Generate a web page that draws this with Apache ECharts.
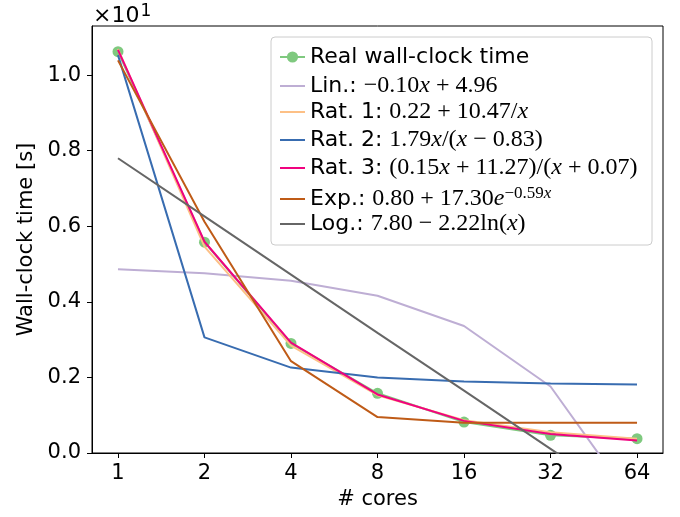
<!DOCTYPE html>
<html>
<head>
<meta charset="utf-8">
<script src="https://cdn.jsdelivr.net/npm/echarts@6/dist/echarts.min.js"></script>
<style>html,body{margin:0;padding:0;background:#fff}#c{width:680px;height:517px}</style>
</head>
<body>
<div id="c"></div>
<script>
// ---- data (values in units of 10 s, as on the axis) ----
const cores = [1, 2, 4, 8, 16, 32, 64];
const xTicks = [1, 2, 4, 8, 16, 32, 64];
const yTicks = [0.0, 0.2, 0.4, 0.6, 0.8, 1.0];
const realTime = [1.062, 0.558, 0.290, 0.158, 0.082, 0.047, 0.038];
const linFit  = [0.486, 0.476, 0.456, 0.416, 0.336, 0.176, -0.144];
const rat1Fit = [1.069, 0.546, 0.284, 0.153, 0.087, 0.055, 0.038];
const rat2Fit = [1.053, 0.306, 0.226, 0.200, 0.189, 0.184, 0.181];
const rat3Fit = [1.067, 0.559, 0.292, 0.155, 0.085, 0.050, 0.033];
const expFit  = [1.039, 0.612, 0.243, 0.095, 0.080, 0.080, 0.080];
const logFit  = [0.780, 0.626, 0.472, 0.318, 0.165, 0.011, -0.143];
const seriesNames = ['Real wall-clock time', 'Lin.', 'Rat. 1', 'Rat. 2', 'Rat. 3', 'Exp.', 'Log.'];
const seriesColors = ['#7fc97f', '#beaed4', '#fdc086', '#386cb0', '#f0027f', '#bf5b17', '#666666'];
const seriesValues = [realTime, linFit, rat1Fit, rat2Fit, rat3Fit, expFit, logFit];

const legendText = {
  'Real wall-clock time': '{s|Real wall-clock time}',
  'Lin.': '{s|Lin.: }{m|\u22120.10}{i|x}{m| + 4.96}',
  'Rat. 1': '{s|Rat. 1: }{m|0.22 + 10.47/}{i|x}',
  'Rat. 2': '{s|Rat. 2: }{m|1.79}{i|x}{m|/(}{i|x}{m| \u2212 0.83)}',
  'Rat. 3': '{s|Rat. 3: }{m|(0.15}{i|x}{m| + 11.27)/(}{i|x}{m| + 0.07)}',
  'Exp.': '{s|Exp.: }{m|0.80 + 17.30}{i|e}{sup|\u22120.59}{supi|x}',
  'Log.': '{s|Log.: }{m|7.80 \u2212 2.22ln(}{i|x}{m|)}'
};

const FONT = 'DejaVu Sans';
const SERIF = 'Liberation Serif';
const LH = 26;
const rich = {
  s: {fontFamily: FONT, fontSize: 22, color: '#000', lineHeight: LH},
  m: {fontFamily: SERIF, fontSize: 24, color: '#000', lineHeight: LH},
  i: {fontFamily: SERIF, fontSize: 24, fontStyle: 'italic', color: '#000', lineHeight: LH},
  sup: {fontFamily: SERIF, fontSize: 17, color: '#000', lineHeight: 16, verticalAlign: 'bottom', padding: [0, 0, 10, 0]},
  supi: {fontFamily: SERIF, fontSize: 17, fontStyle: 'italic', color: '#000', lineHeight: 16, verticalAlign: 'bottom', padding: [0, 0, 10, 0]}
};
const legendCenters = [59, 87, 113, 141, 169, 198, 225];

const chart = echarts.init(document.getElementById('c'), null, {renderer: 'canvas'});

const series = seriesNames.map((name, k) => ({
  name: name,
  type: 'line',
  data: cores.map((c, i) => [c, seriesValues[k][i]]),
  symbol: k === 0 ? 'circle' : 'none',
  symbolSize: 11,
  showSymbol: k === 0,
  lineStyle: {color: seriesColors[k], width: 2},
  itemStyle: {color: seriesColors[k]},
  emphasis: {disabled: true},
  animation: false,
  z: 2 + k
}));

const legends = seriesNames.map((name, k) => ({
  data: [name],
  left: 279,
  top: legendCenters[k] - LH / 2,
  padding: 0,
  itemWidth: 25,
  itemHeight: 14,
  selectedMode: false,
  z: 10,
  itemStyle: k === 0 ? {} : {opacity: 0},
  formatter: n => legendText[n],
  textStyle: {rich: rich}
}));

chart.setOption({
  animation: false,
  backgroundColor: '#fff',
  grid: {left: 92, right: 17, top: 26, bottom: 64, show: true, borderColor: '#000', borderWidth: 1, backgroundColor: 'transparent'},
  xAxis: {
    type: 'log', logBase: 2, min: 0.812, max: 78.8,
    name: '# cores', nameLocation: 'middle', nameGap: 35,
    nameTextStyle: {fontFamily: FONT, fontSize: 21, color: '#000'},
    axisLine: {show: true, lineStyle: {color: '#000', width: 1}},
    axisTick: {show: true, length: 5, lineStyle: {color: '#000', width: 1}, customValues: xTicks},
    axisLabel: {fontFamily: FONT, fontSize: 21, color: '#000', margin: 10, customValues: xTicks,
      formatter: v => String(Math.round(v))},
    splitLine: {show: false}, minorTick: {show: false}
  },
  yAxis: {
    type: 'value', min: 0, max: 1.13,
    name: 'Wall-clock time [s]', nameLocation: 'middle', nameGap: 52,
    nameTextStyle: {fontFamily: FONT, fontSize: 21, color: '#000'},
    axisLine: {show: true, lineStyle: {color: '#000', width: 1}},
    axisTick: {show: true, length: 5, lineStyle: {color: '#000', width: 1}, customValues: yTicks},
    axisLabel: {fontFamily: FONT, fontSize: 21, color: '#000', margin: 11, customValues: yTicks,
      formatter: v => v.toFixed(1)},
    splitLine: {show: false}
  },
  legend: legends,
  graphic: [
    {type: 'rect', z: 3, shape: {x: 271, y: 37, width: 381, height: 208, r: 4},
      style: {fill: 'rgba(255,255,255,0.8)', stroke: '#cccccc', lineWidth: 1}},
    {type: 'text', z: 3, left: 93, top: 3,
      style: {text: '{a|\u00d710}{b|1}', rich: {
        a: {fontFamily: FONT, fontSize: 22, color: '#000', lineHeight: 24},
        b: {fontFamily: FONT, fontSize: 17, color: '#000', lineHeight: 17, verticalAlign: 'bottom', padding: [0, 0, 8, 1]}
      }}}
  ],
  series: series
});
</script>
</body>
</html>
